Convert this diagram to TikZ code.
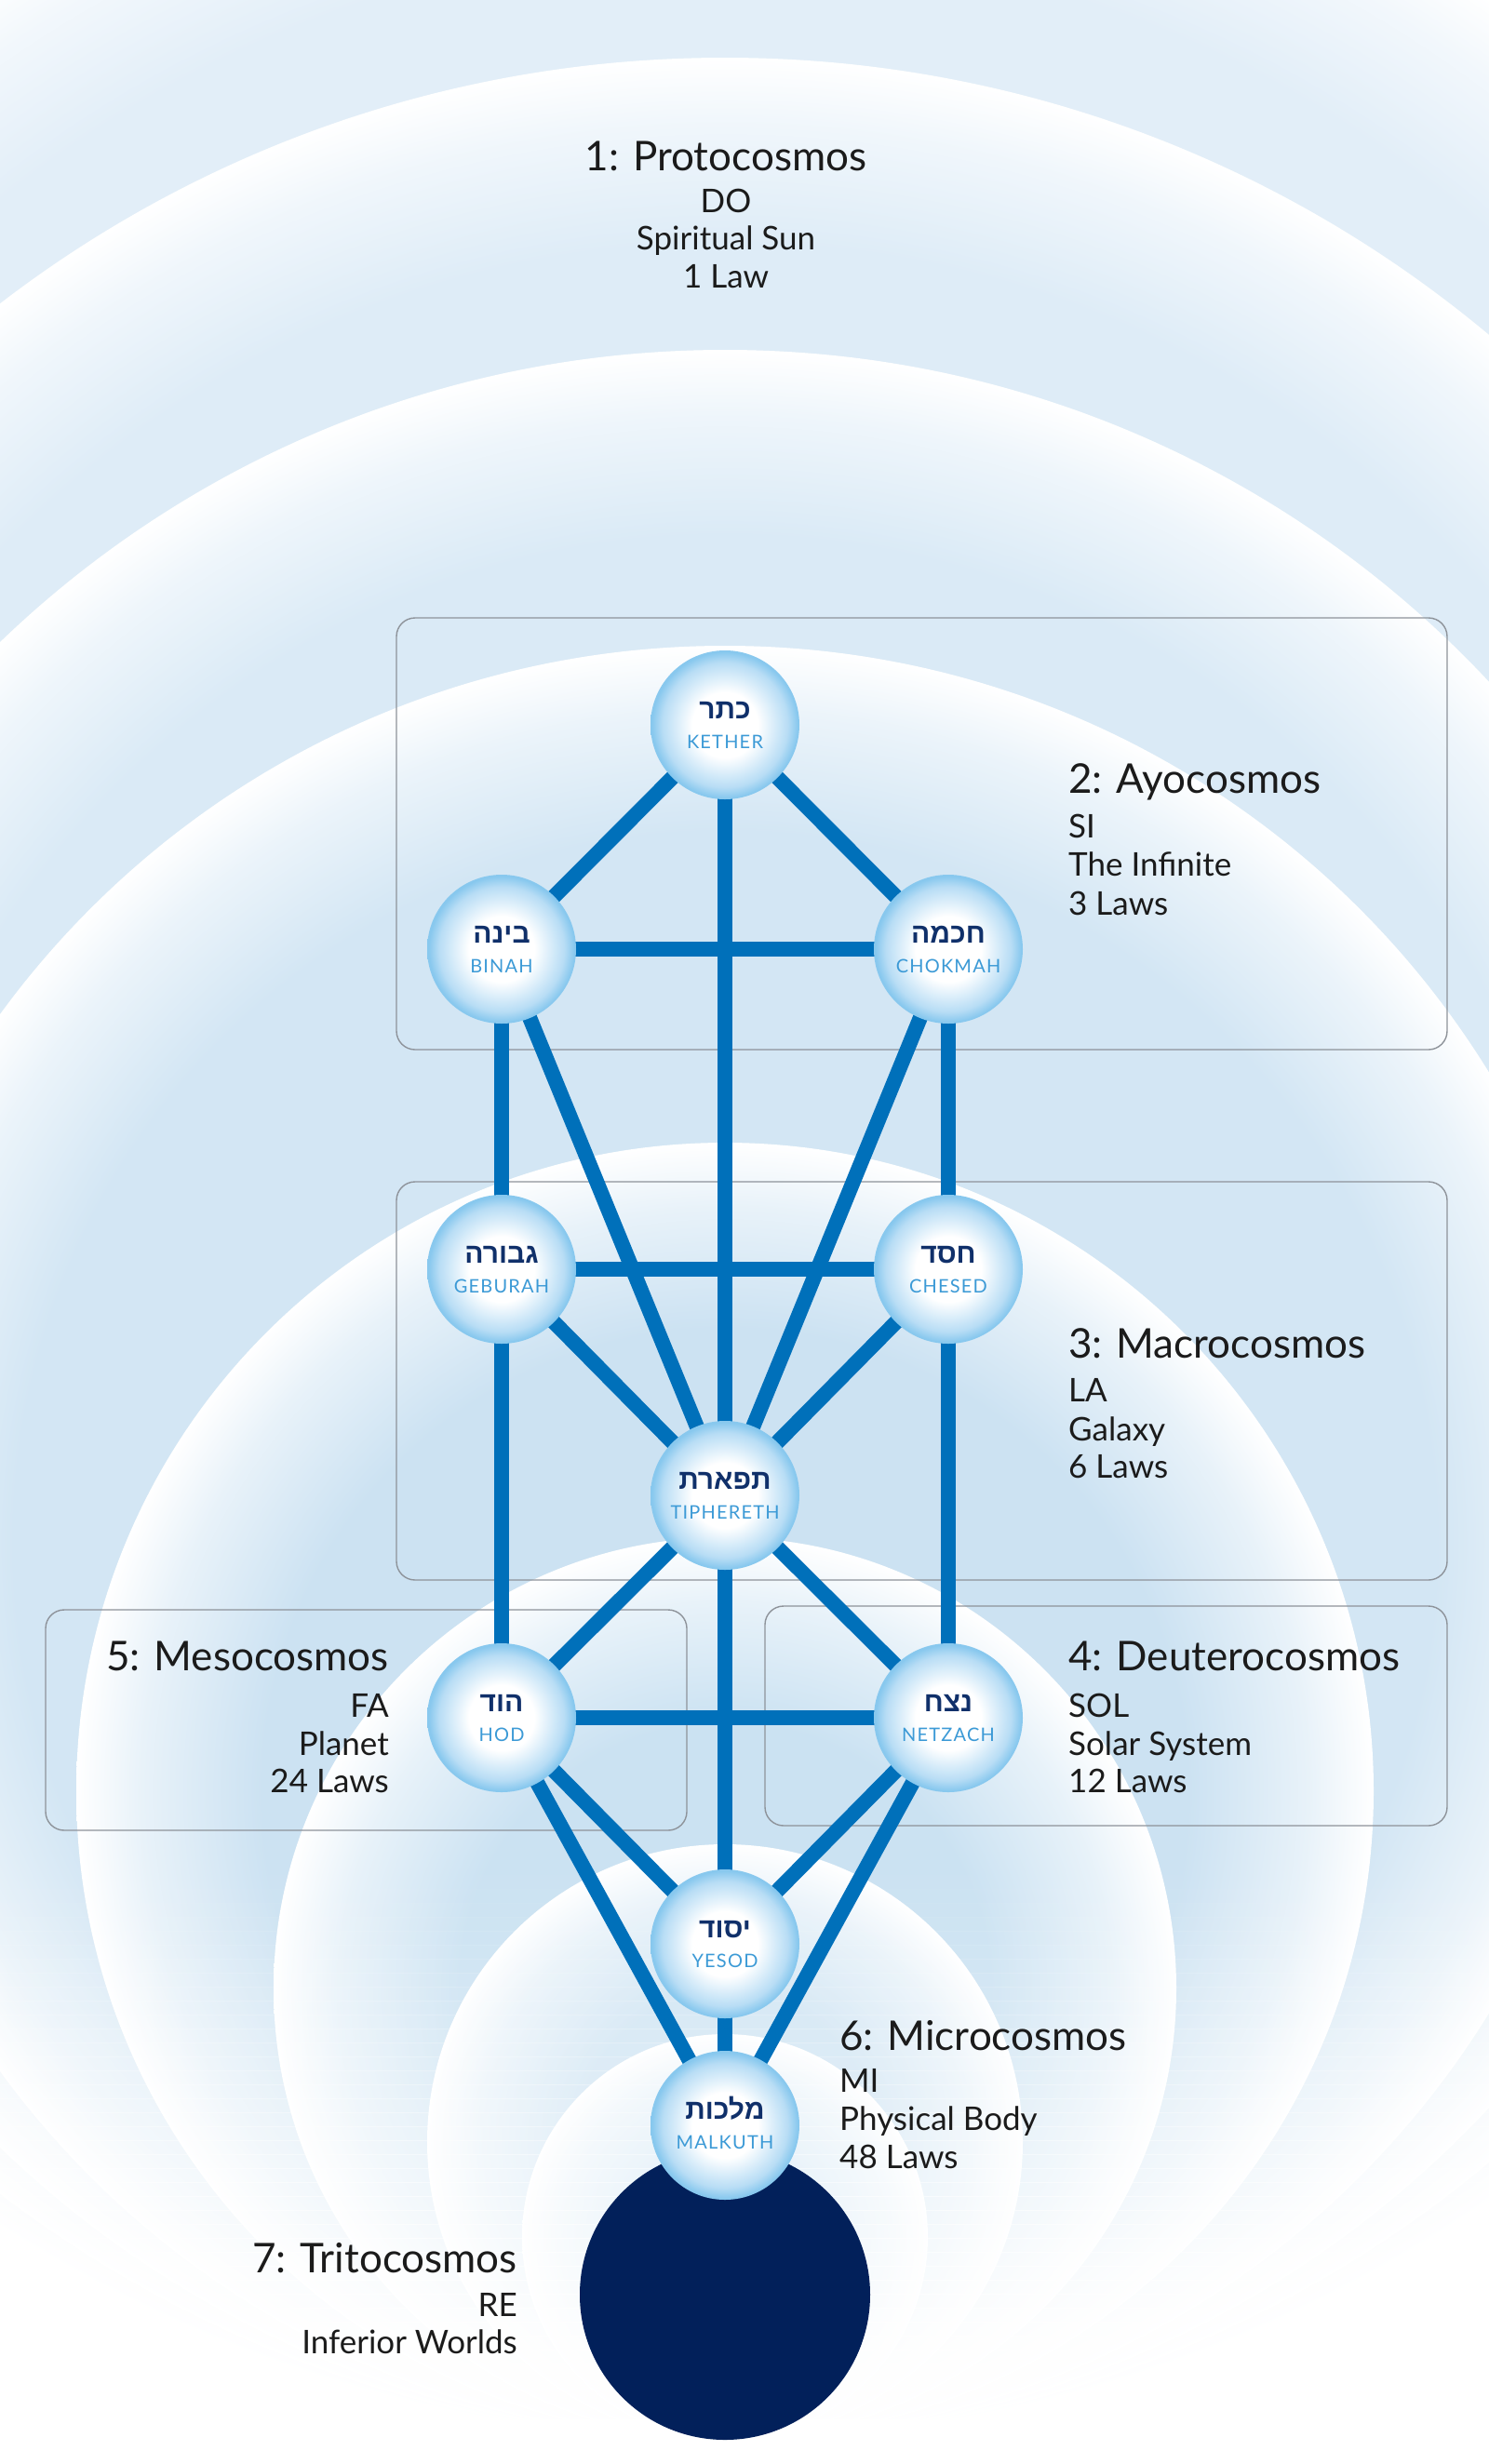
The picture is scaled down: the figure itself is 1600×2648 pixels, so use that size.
\documentclass[tikz,border=0pt]{standalone}
\usepackage{fontspec}
\setmainfont{Lato}
\newfontfamily\hebfont[Script=Hebrew]{Liberation Sans}
\TeXXeTstate=1
\definecolor{pathblue}{HTML}{0070BA}
\definecolor{navy}{HTML}{02205A}
\definecolor{hebcol}{HTML}{10306A}
\definecolor{latcol}{HTML}{3C9AD6}
\definecolor{boxgray}{HTML}{8E939A}
\definecolor{txtcol}{HTML}{1B1B1B}
\definecolor{sefrim}{HTML}{88C8EE}
\definecolor{sefmid}{HTML}{B8DDF5}
\definecolor{rb0}{HTML}{E2EEF8}
\definecolor{rb1}{HTML}{DEECF7}
\definecolor{rb2}{HTML}{DAEAF6}
\definecolor{rb3}{HTML}{D3E6F4}
\definecolor{rb4}{HTML}{CCE2F2}
\definecolor{rb5}{HTML}{CBE2F2}
\definecolor{rb6}{HTML}{CFE4F3}
\definecolor{rb7}{HTML}{D5E8F5}
\colorlet{rm0}{rb0!45!white}
\colorlet{rm1}{rb1!45!white}
\colorlet{rm2}{rb2!45!white}
\colorlet{rm3}{rb3!45!white}
\colorlet{rm4}{rb4!45!white}
\colorlet{rm5}{rb5!45!white}
\colorlet{rm6}{rb6!45!white}
\colorlet{rm7}{rb7!45!white}
\pgfdeclareradialshading{ringshA}{\pgfpointorigin}{color(0bp)=(rb0); color(21.53bp)=(rb0); color(23.78bp)=(rm0); color(25bp)=(white); color(50bp)=(white)}
\pgfdeclareradialshading{ringshB}{\pgfpointorigin}{color(0bp)=(rb1); color(21.09bp)=(rb1); color(23.63bp)=(rm1); color(25bp)=(white); color(50bp)=(white)}
\pgfdeclareradialshading{ringshC}{\pgfpointorigin}{color(0bp)=(rb2); color(20.55bp)=(rb2); color(23.44bp)=(rm2); color(25bp)=(white); color(50bp)=(white)}
\pgfdeclareradialshading{ringshD}{\pgfpointorigin}{color(0bp)=(rb3); color(19.81bp)=(rb3); color(23.18bp)=(rm3); color(25bp)=(white); color(50bp)=(white)}
\pgfdeclareradialshading{ringshE}{\pgfpointorigin}{color(0bp)=(rb4); color(17.83bp)=(rb4); color(22.49bp)=(rm4); color(25bp)=(white); color(50bp)=(white)}
\pgfdeclareradialshading{ringshF}{\pgfpointorigin}{color(0bp)=(rb5); color(14.69bp)=(rb5); color(21.39bp)=(rm5); color(25bp)=(white); color(50bp)=(white)}
\pgfdeclareradialshading{ringshG}{\pgfpointorigin}{color(0bp)=(rb6); color(12.5bp)=(rb6); color(20.63bp)=(rm6); color(25bp)=(white); color(50bp)=(white)}
\pgfdeclareradialshading{ringshH}{\pgfpointorigin}{color(0bp)=(rb7); color(11.24bp)=(rb7); color(20.18bp)=(rm7); color(25bp)=(white); color(50bp)=(white)}
\pgfdeclareradialshading{sefshade}{\pgfpointorigin}{color(0bp)=(white); color(11bp)=(white); color(21bp)=(sefmid); color(24.5bp)=(sefrim); color(25bp)=(sefrim); color(50bp)=(sefrim)}
\pgfdeclarelayer{back}
\pgfdeclarelayer{mid}
\pgfsetlayers{back,mid,main}
\begin{document}
\begin{tikzpicture}[x=1pt,y=-1pt,
  boxst/.style={draw=boxgray, line width=1.4pt, rounded corners=20pt, inner sep=0pt, fill=none},
  sef/.style={circle, minimum size=160pt, inner sep=0pt, shading=sefshade},
  heb/.style={anchor=base, inner sep=0pt, text=hebcol, font=\hebfont\bfseries\fontsize{30}{30}\selectfont},
  lat/.style={anchor=base, inner sep=0pt, text=latcol, font=\fontsize{20}{20}\selectfont\addfontfeatures{LetterSpace=6}},
  ttl/.style={inner sep=0pt, text=txtcol, font=\fontsize{44}{52}\selectfont},
  sub/.style={inner sep=0pt, text=txtcol, font=\fontsize{35}{42}\selectfont},
  conn/.style={draw=pathblue, line width=16pt}
]
\useasboundingbox (0,0) rectangle (1600,2648);
\begin{pgfonlayer}{back}
\fill[white] (0,0) rectangle (1600,2648);
\begin{scope}
\clip (0,0) rectangle (1600,2648);
\shade[shading=ringshA] (779,1182) circle[radius=1440pt];
\shade[shading=ringshB] (779,1342) circle[radius=1280pt];
\shade[shading=ringshC] (779,1499) circle[radius=1123pt];
\shade[shading=ringshD] (779,1658) circle[radius=964pt];
\shade[shading=ringshE] (779,1925) circle[radius=697pt];
\shade[shading=ringshF] (779,2137) circle[radius=485pt];
\shade[shading=ringshG] (779,2302) circle[radius=320pt];
\shade[shading=ringshH] (779,2404) circle[radius=218pt];
% whitening toward the bottom, in thin strips
\foreach \i in {0,...,39} {
  \pgfmathsetmacro\op{min(1,((\i+0.5)/40)^1.2)}
  \fill[white, fill opacity=\op] (0,{2000+15*\i}) rectangle (1600,{2015.6+15*\i});
}
\fill[white] (0,2600) rectangle (1600,2648);
\end{scope}
% boxes
\node[boxst, minimum width=1129pt, minimum height=464pt] (box2) at (990.5,896) {};
\node[boxst, minimum width=1129pt, minimum height=428pt] (box3) at (990.5,1484) {};
\node[boxst, minimum width=689pt, minimum height=237pt] (box5) at (393.5,1848.5) {};
\node[boxst, minimum width=733pt, minimum height=236pt] (box4) at (1188.5,1844) {};
% texts
\node[ttl, anchor=base] (t1) at (780,183) {1: Protocosmos};
\node[sub, anchor=base] (t1a) at (780,228) {DO};
\node[sub, anchor=base] (t1b) at (780,268) {Spiritual Sun};
\node[sub, anchor=base] (t1c) at (780,309) {1 Law};
\node[ttl, anchor=base west] (t2) at (1148,852) {2: Ayocosmos};
\node[sub, anchor=base west] (t2a) at (1148,900) {SI};
\node[sub, anchor=base west] (t2b) at (1148,941) {The Infinite};
\node[sub, anchor=base west] (t2c) at (1148,983) {3 Laws};
\node[ttl, anchor=base west] (t3) at (1148,1459) {3: Macrocosmos};
\node[sub, anchor=base west] (t3a) at (1148,1506) {LA};
\node[sub, anchor=base west] (t3b) at (1148,1548) {Galaxy};
\node[sub, anchor=base west] (t3c) at (1148,1588) {6 Laws};
\node[ttl, anchor=base west] (t4) at (1148,1795) {4: Deuterocosmos};
\node[sub, anchor=base west] (t4a) at (1148,1845) {SOL};
\node[sub, anchor=base west] (t4b) at (1148,1886) {Solar System};
\node[sub, anchor=base west] (t4c) at (1148,1926) {12 Laws};
\node[ttl, anchor=base east] (t5) at (418,1795) {5: Mesocosmos};
\node[sub, anchor=base east] (t5a) at (418,1845) {FA};
\node[sub, anchor=base east] (t5b) at (418,1886) {Planet};
\node[sub, anchor=base east] (t5c) at (418,1926) {24 Laws};
\node[ttl, anchor=base west] (t6) at (902,2203) {6: Microcosmos};
\node[sub, anchor=base west] (t6a) at (902,2248) {MI};
\node[sub, anchor=base west] (t6b) at (902,2289) {Physical Body};
\node[sub, anchor=base west] (t6c) at (902,2330) {48 Laws};
\node[ttl, anchor=base east] (t7) at (556,2442) {7: Tritocosmos};
\node[sub, anchor=base east] (t7a) at (556,2489) {RE};
\node[sub, anchor=base east] (t7b) at (556,2529) {Inferior Worlds};
% dark sphere
\node[circle, fill=navy, minimum size=312pt, inner sep=0pt] (abyss) at (779,2466) {};
\end{pgfonlayer}
% sefirot
\node[sef] (kether) at (779,779) {};
\node[sef] (binah) at (539,1020) {};
\node[sef] (chokmah) at (1019,1020) {};
\node[sef] (geburah) at (539,1364) {};
\node[sef] (chesed) at (1019,1364) {};
\node[sef] (tiphereth) at (779,1607) {};
\node[sef] (hod) at (539,1846) {};
\node[sef] (netzach) at (1019,1846) {};
\node[sef] (yesod) at (779,2089) {};
\node[sef] (malkuth) at (779,2284) {};
% labels
\node[heb] (kether-h) at (779,772) {\beginR כתר\endR};
\node[lat] (kether-l) at (779,804) {KETHER};
\node[heb] (binah-h) at (539,1013) {\beginR בינה\endR};
\node[lat] (binah-l) at (539,1045) {BINAH};
\node[heb] (chokmah-h) at (1019,1013) {\beginR חכמה\endR};
\node[lat] (chokmah-l) at (1019,1045) {CHOKMAH};
\node[heb] (geburah-h) at (539,1357) {\beginR גבורה\endR};
\node[lat] (geburah-l) at (539,1389) {GEBURAH};
\node[heb] (chesed-h) at (1019,1357) {\beginR חסד\endR};
\node[lat] (chesed-l) at (1019,1389) {CHESED};
\node[heb] (tiphereth-h) at (779,1600) {\beginR תפארת\endR};
\node[lat] (tiphereth-l) at (779,1632) {TIPHERETH};
\node[heb] (hod-h) at (539,1839) {\beginR הוד\endR};
\node[lat] (hod-l) at (539,1871) {HOD};
\node[heb] (netzach-h) at (1019,1839) {\beginR נצח\endR};
\node[lat] (netzach-l) at (1019,1871) {NETZACH};
\node[heb] (yesod-h) at (779,2082) {\beginR יסוד\endR};
\node[lat] (yesod-l) at (779,2114) {YESOD};
\node[heb] (malkuth-h) at (779,2277) {\beginR מלכות\endR};
\node[lat] (malkuth-l) at (779,2309) {MALKUTH};
% paths
\begin{pgfonlayer}{mid}
\foreach \a/\b in {kether/binah, kether/chokmah, kether/tiphereth, binah/chokmah,
  binah/geburah, chokmah/chesed, binah/tiphereth, chokmah/tiphereth,
  geburah/chesed, geburah/tiphereth, chesed/tiphereth, geburah/hod, chesed/netzach,
  tiphereth/hod, tiphereth/netzach, hod/netzach, tiphereth/yesod, hod/yesod,
  netzach/yesod, hod/malkuth, netzach/malkuth, yesod/malkuth}
  \draw[conn] (\a.center) -- (\b.center);
\end{pgfonlayer}
\end{tikzpicture}
\end{document}
